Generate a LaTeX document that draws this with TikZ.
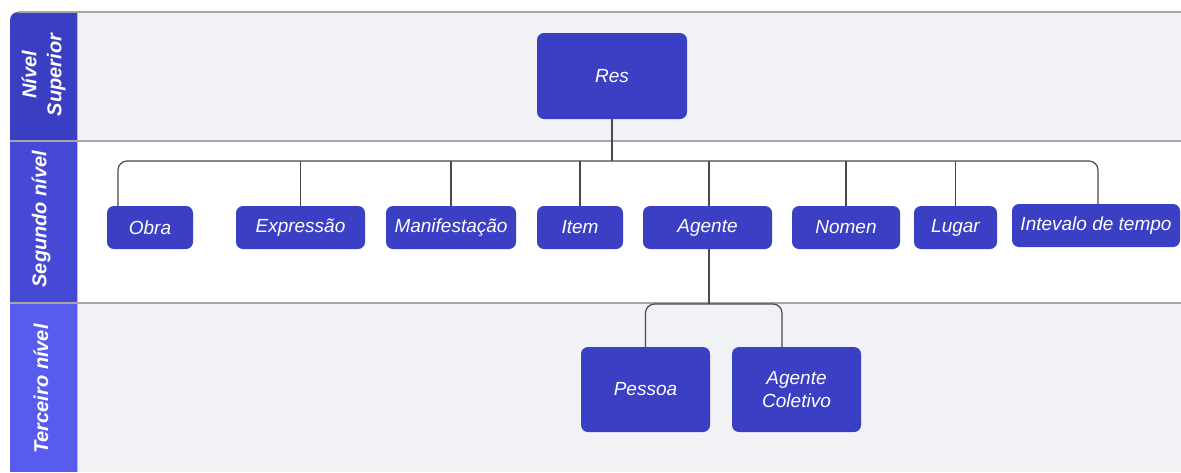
\documentclass[tikz,border=0pt]{standalone}
\usepackage{fontspec}
\setmainfont{Liberation Sans}
\definecolor{boxblue}{HTML}{3A3FC4}
\definecolor{hdrA}{HTML}{3A3EC3}
\definecolor{hdrB}{HTML}{4649D6}
\definecolor{hdrC}{HTML}{585CEE}
\definecolor{laneGray}{HTML}{F1F2F5}
\definecolor{sepgray}{HTML}{A6A6A6}
\definecolor{hdredge}{HTML}{B9BBD9}
\definecolor{linegray}{HTML}{4A4A4A}
\begin{document}
\begin{tikzpicture}[x=1pt,y=-1pt,
  box/.style={fill=boxblue, rounded corners=7pt, text=white, inner sep=0pt,
    align=center, font=\fontsize{19}{23}\selectfont\itshape},
  small/.style={box, minimum height=43pt},
  big/.style={box, minimum height=85pt, minimum width=129pt},
  conn/.style={draw=linegray, line width=1.2pt, rounded corners=9pt},
  lanetitle/.style={text=white, rotate=90, align=center, inner sep=0pt,
    font=\fontsize{20}{25}\selectfont\bfseries\itshape},
  sep/.style={draw=sepgray, line width=2pt}]
\useasboundingbox (0,0) rectangle (1181,472);
\fill[white] (0,0) rectangle (1181,472);

% lane bodies
\fill[laneGray] (77,12) rectangle (1181,141);
\fill[white]    (77,141) rectangle (1181,303);
\fill[laneGray] (77,303) rectangle (1181,472);

% lane header column
\fill[hdrA, rounded corners=8pt] (10,12) rectangle (77,141);
\fill[hdrA] (22,12) rectangle (77,141);
\fill[hdrA] (10,26) rectangle (77,141);
\fill[hdrB] (10,141) rectangle (77,303);
\fill[hdrC] (10,303) rectangle (77,472);
\draw[hdredge, line width=1pt] (77,12) -- (77,472);

% lane borders
\draw[sepgray, line width=1.5pt] (18,12) -- (1181,12);
\draw[sep] (10,141) -- (1181,141);
\draw[sep] (10,303) -- (1181,303);

% lane titles
\node[lanetitle] (t1) at (43.5,75) {Nível\\Superior};
\node[lanetitle] (t2) at (41,219) {Segundo nível};
\node[lanetitle] (t3) at (41,389) {Terceiro nível};

% top level
\node[box, minimum width=150pt, minimum height=86pt] (res) at (612,76) {Res};

% second level
\node[small, minimum width=86pt]  (obra)     at (150,227.5)  {Obra};
\node[small, minimum width=129pt] (expr)     at (300.5,227.5) {Expressão};
\node[small, minimum width=130pt] (manif)    at (451,227.5)  {Manifestação};
\node[small, minimum width=86pt]  (item)     at (580,227.5)  {Item};
\node[small, minimum width=129pt] (agente)   at (707.5,227.5) {Agente};
\node[small, minimum width=108pt] (nomen)    at (846,227.5)  {Nomen};
\node[small, minimum width=83pt]  (lugar)    at (955.5,227.5) {Lugar};
\node[small, minimum width=168pt] (intevalo) at (1096,225.5) {Intevalo de tempo};

% third level
\node[big] (pessoa)   at (645.5,389.5) {Pessoa};
\node[big] (coletivo) at (796.5,389.5) {Agente\\Coletivo};

% connectors
\coordinate (bus)  at (612,161);
\coordinate (bus2) at (709,304);
\draw[conn] (res.south) -- (bus);
\draw[conn] ([xshift=-32pt]obra.north) |- (bus) -| ([xshift=2pt]intevalo.north);
\draw[conn] (expr.north)   -- (expr.north |- bus);
\draw[conn] (manif.north)  -- (manif.north |- bus);
\draw[conn] (item.north)   -- (item.north |- bus);
\draw[conn] ([xshift=1.5pt]agente.north) -- ([xshift=1.5pt]agente.north |- bus);
\draw[conn] (nomen.north)  -- (nomen.north |- bus);
\draw[conn] (lugar.north)  -- (lugar.north |- bus);

\draw[conn] ([xshift=1.5pt]agente.south) -- (bus2);
\draw[conn] (pessoa.north) |- (bus2) -| ([xshift=-14.5pt]coletivo.north);
\end{tikzpicture}
\end{document}
